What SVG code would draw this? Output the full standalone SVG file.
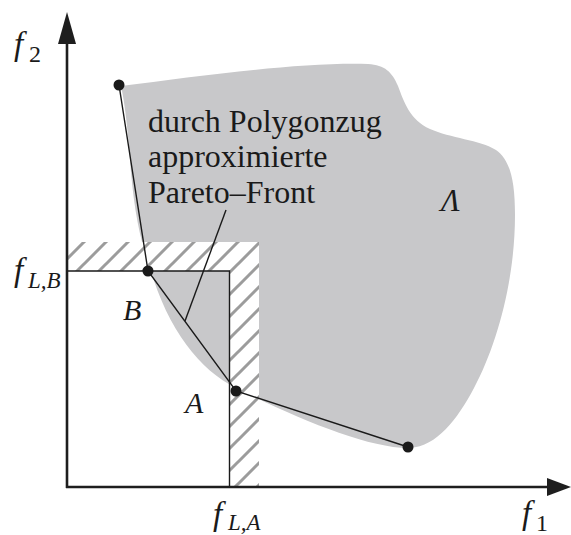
<svg xmlns="http://www.w3.org/2000/svg" width="571" height="535" viewBox="0 0 571 535">
<style>
.txt{font-family:"Liberation Serif","Times New Roman",serif;font-size:32px;fill:#1a1a1a}
.m{font-family:"Liberation Serif","Times New Roman",serif;font-style:italic;fill:#1a1a1a}
.ax{stroke:#1e1e1e;stroke-width:2.6;fill:none}
.ln{stroke:#1a1a1a;stroke-width:1.4;fill:none}
.dot{fill:#1a1a1a}
</style>
<defs>
<pattern id="hatch" patternUnits="userSpaceOnUse" x="18" y="0" width="22" height="22">
<rect width="22" height="22" fill="#fff"/>
<path d="M-2,24 L24,-2 M-13,13 L2,-2 M20,24 L35,9" stroke="#9c9c9c" stroke-width="3"/>
</pattern>
</defs>
<rect width="571" height="535" fill="#fff"/>
<g id="region">
<path d="M121,86 C200,76 300,62 368,64 C385,65 392,72 398,86 C404,102 410,120 430,129 C450,138 480,140 496,150 C510,160 515,180 515,215 C515,280 497,345 474,388 C457,420 437,446 410,448 C370,449 300,420 236,388 C200,370 168,330 150,268 C138,235 133,200 130,160 C127,120 124,100 121,86 Z" fill="#c8c8ca"/>
</g>
<g id="hatched-band">
<path d="M67,242 H259 V487 H229.5 V271 H67 Z" fill="url(#hatch)"/>
</g>
<g id="limits">
<path class="ln" d="M67,271 H229.5 V487"/>
</g>
<g id="axes">
<line class="ax" x1="67" y1="488" x2="67" y2="40"/>
<polygon points="67,12 58,44 76,44" fill="#1e1e1e"/>
<line class="ax" x1="66" y1="487" x2="550" y2="487"/>
<polygon points="571,487 547,478 547,496" fill="#1e1e1e"/>
</g>
<g id="connectors">
<polyline class="ln" points="119,85 148,271 236,391 408,447"/>
<line class="ln" x1="226" y1="210" x2="185" y2="321"/>
</g>
<g id="point-1"><circle class="dot" cx="119" cy="85" r="5.5"/></g>
<g id="point-B"><circle class="dot" cx="148" cy="271" r="5.5"/></g>
<g id="point-A"><circle class="dot" cx="236" cy="391" r="5.5"/></g>
<g id="point-4"><circle class="dot" cx="408" cy="447" r="5.5"/></g>
<g id="labels">
<text class="txt" x="148" y="132">durch Polygonzug</text>
<text class="txt" x="148" y="167">approximierte</text>
<text class="txt" x="148" y="203">Pareto–Front</text>
<text class="m" x="441" y="211" font-size="31">Λ</text>
<text class="m" x="123" y="320" font-size="30">B</text>
<text class="m" x="185" y="413" font-size="30">A</text>
<text class="m" x="14" y="55" font-size="33">f<tspan x="29" y="62" font-size="24" font-style="normal">2</tspan></text>
<text class="m" x="14" y="281" font-size="33">f<tspan x="28" y="288" font-size="23">L,B</tspan></text>
<text class="m" x="213" y="525" font-size="33">f<tspan x="228" y="530" font-size="23">L,A</tspan></text>
<text class="m" x="522" y="524" font-size="33">f<tspan x="536" y="531" font-size="24" font-style="normal">1</tspan></text>
</g>
</svg>
